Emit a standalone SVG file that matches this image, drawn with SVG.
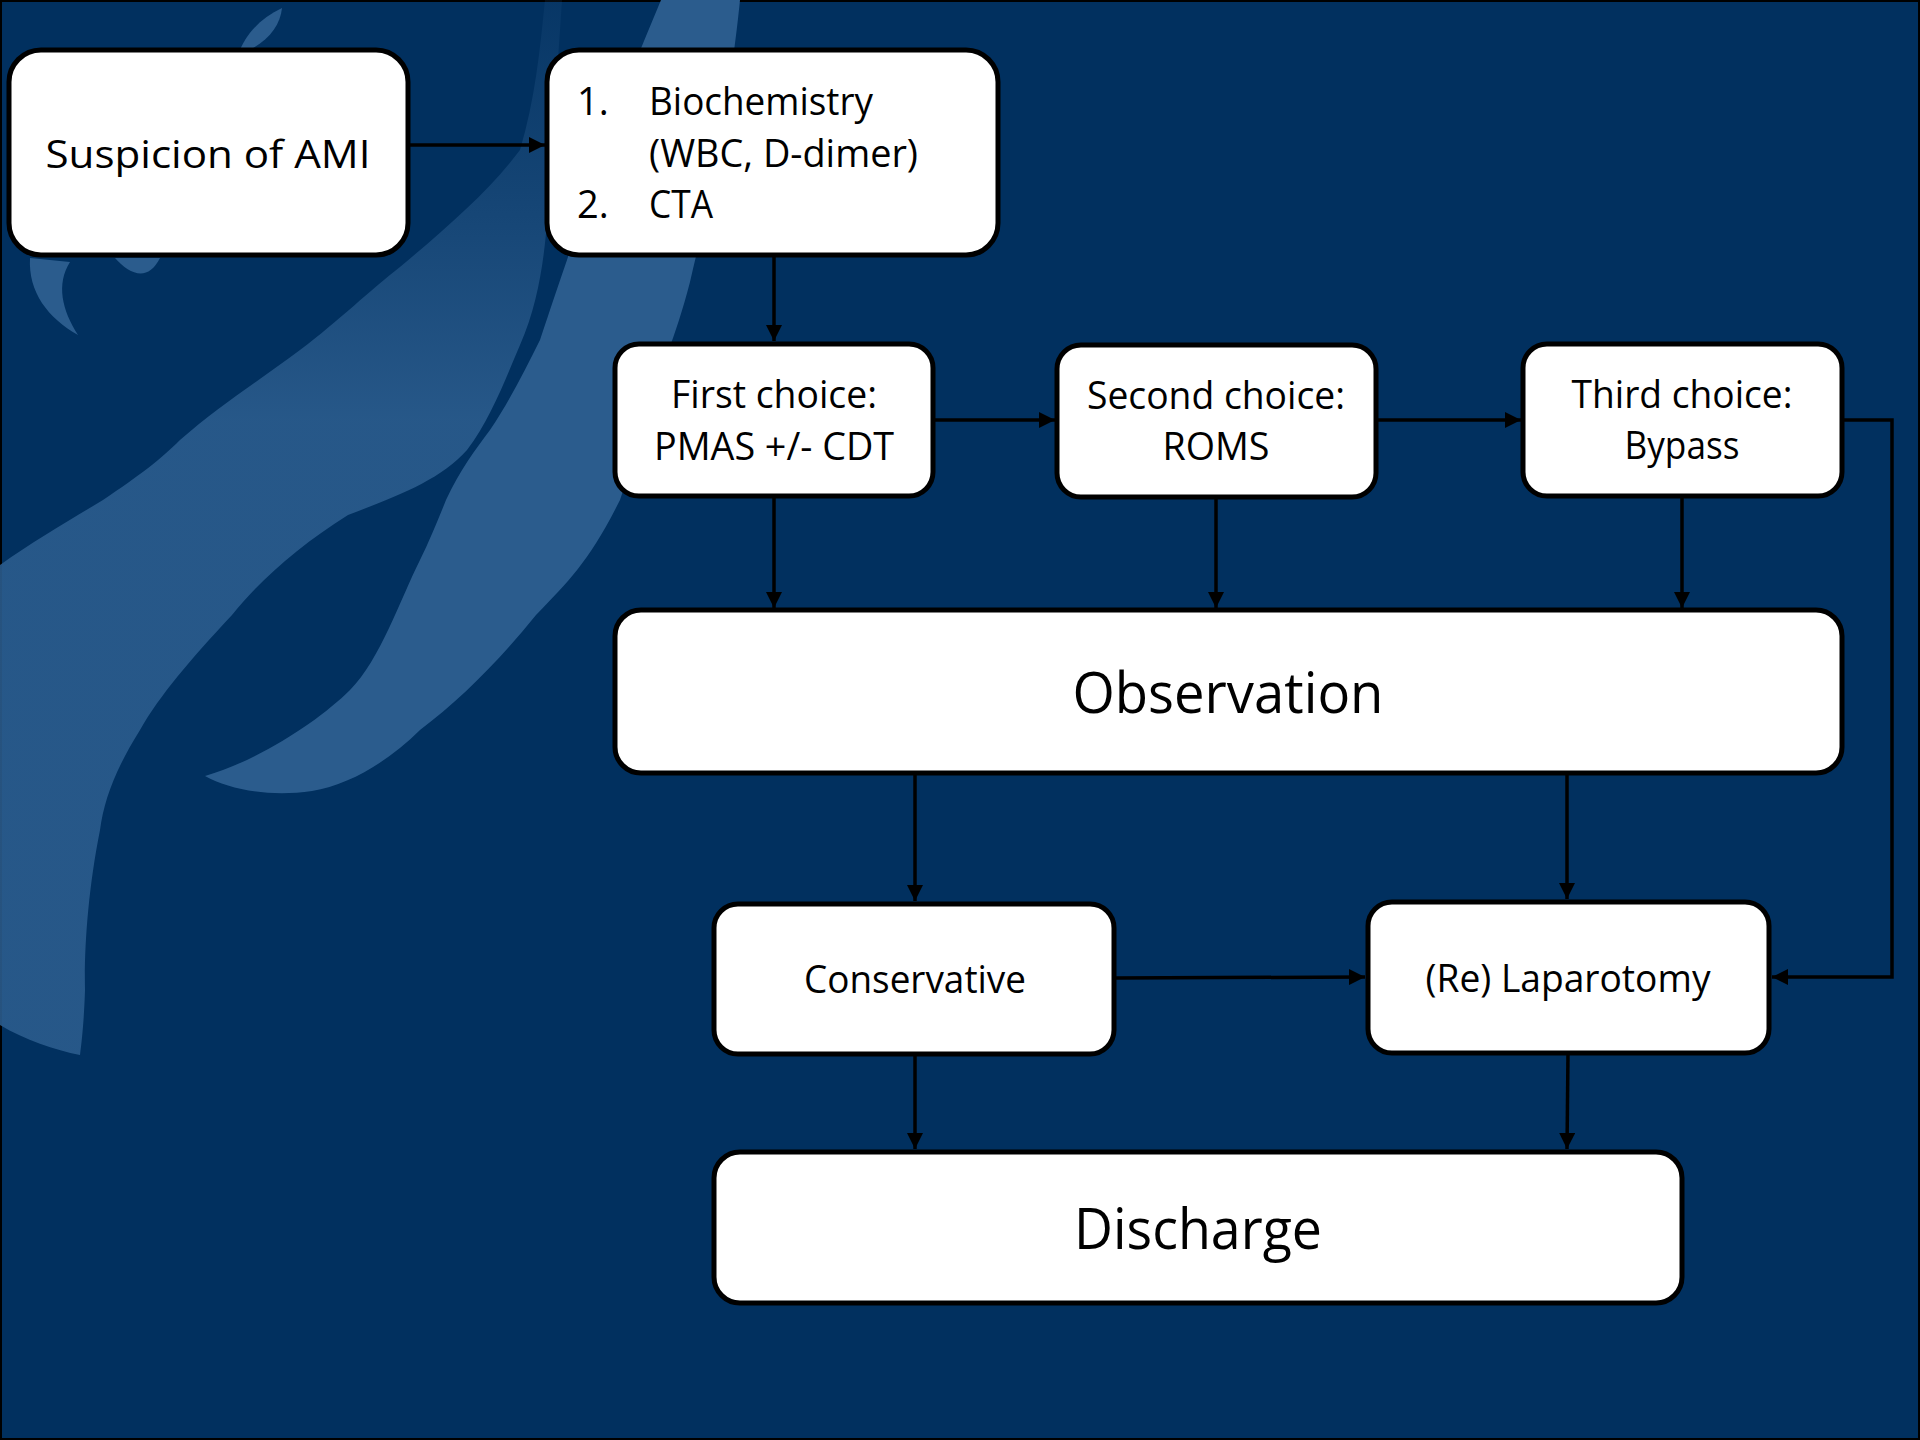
<svg xmlns="http://www.w3.org/2000/svg" width="1920" height="1440" viewBox="0 0 1920 1440">
<defs>
<style>
.box{fill:#ffffff;stroke:#000000;stroke-width:5}
.t{font-family:"Open Sans","Noto Sans","Liberation Sans",sans-serif;font-size:38px;fill:#000000}
.big{font-size:56px}
.c{text-anchor:middle}
.ln{fill:none;stroke:#000000;stroke-width:3.5}
.brush{fill:#2B5C8D}
</style>
<linearGradient id="fade" gradientUnits="userSpaceOnUse" x1="0" y1="0" x2="0" y2="420">
<stop offset="0" stop-color="#2B5C8D" stop-opacity="0.15"/>
<stop offset="0.45" stop-color="#2B5C8D" stop-opacity="0.45"/>
<stop offset="1" stop-color="#2B5C8D" stop-opacity="0.9"/>
</linearGradient>
<marker id="ah" viewBox="0 0 10 10" refX="10" refY="5" markerWidth="4.6" markerHeight="4.6" markerUnits="strokeWidth" orient="auto">
<path d="M0,0 L10,5 L0,10 Z" fill="#000000"/>
</marker>
</defs>
<rect x="0" y="0" width="1920" height="1440" fill="#01305F" stroke="#000000" stroke-width="4"/>
<g id="background-brush">
<path fill="url(#fade)" d="M545 0 L562 0 C558 60 552 150 548 210 C545 250 540 300 520 345 C505 380 490 420 467 450 C440 480 400 495 348 515 C300 545 260 580 232 615 C190 660 160 695 140 730 C115 770 104 800 100 830 C88 890 84 950 85 990 C84 1020 82 1040 80 1055 C55 1050 25 1040 0 1025 L0 565 C35 540 70 520 103 500 C140 475 160 460 180 440 C220 405 260 380 300 350 C340 320 370 290 400 267 C450 225 490 190 520 150 C535 100 540 50 545 0 Z"/>
<path class="brush" d="M661 0 L740 0 C735 50 725 120 710 200 C700 240 695 260 690 282 C675 340 660 370 650 400 C640 440 630 470 620 500 C590 560 570 580 536 615 C500 660 460 700 420 730 C390 760 350 785 312 791 C270 797 230 790 205 776 C260 760 320 720 350 690 C380 660 400 600 420 560 C430 540 440 515 446 500 C460 470 475 450 490 430 C510 400 525 370 540 340 C550 310 560 280 567 260 C580 220 590 180 600 150 C620 100 640 50 661 0 Z"/>
<path class="brush" d="M30 258 C28 292 48 318 78 335 C62 310 56 284 70 262 Z"/>
<path class="brush" d="M115 258 C130 275 148 282 160 258 Z"/>
<path class="brush" d="M238 55 C245 35 260 18 282 8 C280 28 265 45 238 55 Z"/>
</g>
<g id="connectors">
<line class="ln" x1="408" y1="145" x2="545" y2="145" stroke-width="4.5" marker-end="url(#ah)"/>
<line class="ln" x1="774" y1="257" x2="774" y2="341" marker-end="url(#ah)"/>
<line class="ln" x1="933" y1="420" x2="1055" y2="420" marker-end="url(#ah)"/>
<line class="ln" x1="1376" y1="420" x2="1521" y2="420" marker-end="url(#ah)"/>
<polyline class="ln" points="1842,420 1892,420 1892,977 1772,977" marker-end="url(#ah)"/>
<line class="ln" x1="774" y1="496" x2="774" y2="608" marker-end="url(#ah)"/>
<line class="ln" x1="1216" y1="497" x2="1216" y2="608" marker-end="url(#ah)"/>
<line class="ln" x1="1682" y1="496" x2="1682" y2="608" marker-end="url(#ah)"/>
<line class="ln" x1="915" y1="773" x2="915" y2="901" marker-end="url(#ah)"/>
<line class="ln" x1="1567" y1="773" x2="1567" y2="899" marker-end="url(#ah)"/>
<line class="ln" x1="1114" y1="978" x2="1365" y2="977" marker-end="url(#ah)"/>
<line class="ln" x1="915" y1="1054" x2="915" y2="1149" marker-end="url(#ah)"/>
<line class="ln" x1="1568" y1="1053" x2="1567" y2="1149" marker-end="url(#ah)"/>
</g>
<g id="node-suspicion">
<rect class="box" x="9" y="50" width="399" height="205" rx="32"/>
<text class="t c" x="208" y="168" font-size="42" textLength="325" lengthAdjust="spacingAndGlyphs">Suspicion of AMI</text>
</g>
<g id="node-biochemistry">
<rect class="box" x="547" y="50" width="451" height="205" rx="32"/>
<text class="t" x="577" y="115">1.</text>
<text class="t" x="649" y="115" textLength="224" lengthAdjust="spacingAndGlyphs">Biochemistry</text>
<text class="t" x="649" y="167" textLength="269" lengthAdjust="spacingAndGlyphs">(WBC, D-dimer)</text>
<text class="t" x="577" y="218">2.</text>
<text class="t" x="649" y="218" textLength="64" lengthAdjust="spacingAndGlyphs">CTA</text>
</g>
<g id="node-first-choice">
<rect class="box" x="615" y="344" width="318" height="152" rx="24"/>
<text class="t c" x="774" y="408" textLength="206" lengthAdjust="spacingAndGlyphs">First choice:</text>
<text class="t c" x="774" y="460" textLength="240" lengthAdjust="spacingAndGlyphs">PMAS +/- CDT</text>
</g>
<g id="node-second-choice">
<rect class="box" x="1057" y="345" width="319" height="152" rx="24"/>
<text class="t c" x="1216" y="409" textLength="258" lengthAdjust="spacingAndGlyphs">Second choice:</text>
<text class="t c" x="1216" y="460" textLength="107" lengthAdjust="spacingAndGlyphs">ROMS</text>
</g>
<g id="node-third-choice">
<rect class="box" x="1523" y="344" width="319" height="152" rx="24"/>
<text class="t c" x="1682" y="408" textLength="221" lengthAdjust="spacingAndGlyphs">Third choice:</text>
<text class="t c" x="1682" y="459" textLength="115" lengthAdjust="spacingAndGlyphs">Bypass</text>
</g>
<g id="node-observation">
<rect class="box" x="615" y="610" width="1227" height="163" rx="26"/>
<text class="t big c" x="1228" y="713" textLength="311" lengthAdjust="spacingAndGlyphs">Observation</text>
</g>
<g id="node-conservative">
<rect class="box" x="714" y="904" width="400" height="150" rx="24"/>
<text class="t c" x="915" y="993" textLength="222" lengthAdjust="spacingAndGlyphs">Conservative</text>
</g>
<g id="node-laparotomy">
<rect class="box" x="1368" y="902" width="401" height="151" rx="24"/>
<text class="t c" x="1568" y="992" textLength="285" lengthAdjust="spacingAndGlyphs">(Re) Laparotomy</text>
</g>
<g id="node-discharge">
<rect class="box" x="714" y="1152" width="968" height="151" rx="26"/>
<text class="t big c" x="1198" y="1249" textLength="248" lengthAdjust="spacingAndGlyphs">Discharge</text>
</g>
</svg>
